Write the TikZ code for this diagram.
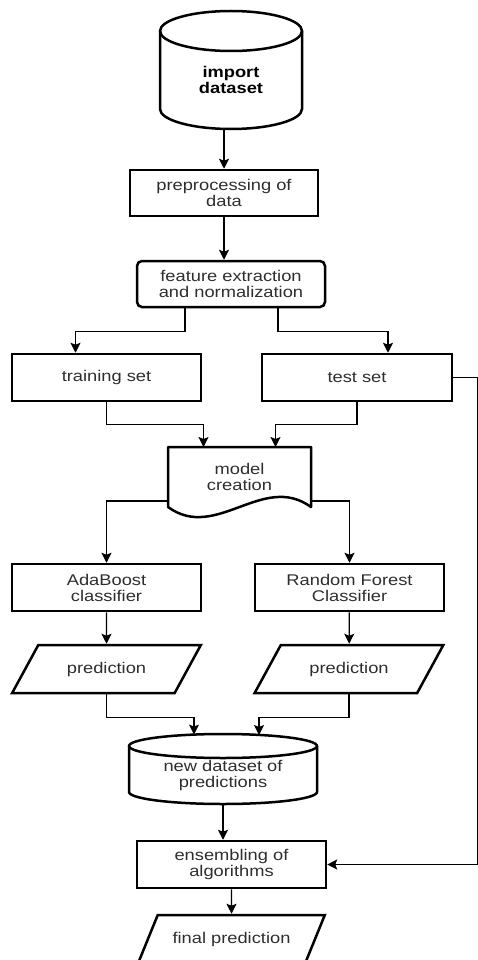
\documentclass[tikz,border=0pt]{standalone}
\usepackage{fontspec}
\setmainfont{Liberation Sans}[FakeStretch=1.18]
\usepackage{tikz}
\usetikzlibrary{shapes.geometric, arrows.meta}
\definecolor{textgray}{HTML}{2E2E2E}
\tikzstyle{procbox} = [rectangle, minimum width=189pt, minimum height=47pt, align=center, draw=black, line width=2.5pt, text=textgray, font=\fontsize{15.5}{16}\selectfont]
\tikzstyle{roundbox} = [procbox, rounded corners=5pt, minimum width=188pt, minimum height=46pt]
\tikzstyle{iobox} = [trapezium, trapezium left angle=52, trapezium right angle=128, trapezium stretches=true, minimum width=189pt, minimum height=48pt, align=center, draw=black, line width=2.5pt, text=textgray, font=\fontsize{15.5}{16}\selectfont]
\tikzstyle{dbase} = [rectangle, outer sep=0pt, align=center, text=textgray, font=\fontsize{15.5}{16}\selectfont]
\tikzstyle{docbox} = [dbase, minimum width=143pt, minimum height=60pt]
\tikzstyle{shapeline} = [draw=black, line width=2.5pt, line join=round]
\tikzstyle{arrow} = [line width=1.3pt, ->, >={Stealth[length=10pt, width=10pt, inset=2pt]}]

\begin{document}
\begin{tikzpicture}[x=1pt, y=1pt]
	\useasboundingbox (0,0) rectangle (477,-960);
	% Nodes
	\node (imp) [dbase, minimum width=142pt, minimum height=98pt, text=black, font=\fontsize{15.5}{16}\selectfont\bfseries] at (231,-80) {import\\dataset};
	\node (pre) [procbox, minimum width=188pt, minimum height=46pt] at (224,-193) {preprocessing of\\data};
	\node (feat) [roundbox] at (231,-284) {feature extraction\\and normalization};
	\node (train) [procbox] at (106.5,-377.5) {training set};
	\node (test) [procbox, minimum width=190pt] at (357,-377.5) {test set};
	\node (model) [docbox] at (239.5,-477) {model\\creation};
	\node (ada) [procbox] at (106.5,-587.5) {AdaBoost\\classifier};
	\node (rf) [procbox] at (349.5,-587.5) {Random Forest\\Classifier};
	\node (pred1) [iobox] at (106.5,-669) {prediction};
	\node (pred2) [iobox] at (349,-669) {prediction};
	\node (newds) [dbase, minimum width=188pt, minimum height=58pt] at (223,-775) {new dataset of\\predictions};
	\node (ens) [procbox] at (231.5,-864.5) {ensembling of\\algorithms};
	\node (fin) [iobox, minimum width=187pt] at (231.5,-939) {final prediction};
	% Outlines
	\draw [shapeline] (imp.north) ellipse [x radius=71, y radius=20];
	\draw [shapeline] (imp.north west) -- ([yshift=20pt]imp.south west) arc [start angle=180, end angle=360, x radius=71, y radius=20] -- (imp.north east);
	\draw [shapeline] (newds.north) ellipse [x radius=94, y radius=12];
	\draw [shapeline] (newds.north west) -- ([yshift=12pt]newds.south west) arc [start angle=180, end angle=360, x radius=94, y radius=12] -- (newds.north east);
	\draw [shapeline] (model.north west) -- (model.north east) -- (model.south east) .. controls +(-48,35) and +(48,-35) .. (model.south west) -- cycle;
	% Arrows
	\draw [arrow] (imp.south -| pre.north) -- (pre.north);
	\draw [arrow] (pre.south) -- (pre.south |- feat.north);
	\draw [arrow] ([xshift=-46pt]feat.south) -- ++(0,-23) -| ([xshift=-31pt]train.north);
	\draw [arrow] ([xshift=47pt]feat.south) -- ++(0,-23) -| ([xshift=31pt]test.north);
	\draw [arrow] (train.south) -- ++(0,-22) -| ([xshift=-36pt]model.north);
	\draw [arrow] (test.south) -- ++(0,-22) -| ([xshift=36pt]model.north);
	\draw [arrow] ([yshift=6pt]model.south west) -| (ada.north);
	\draw [arrow] ([yshift=6pt]model.south east) -| (rf.north);
	\draw [arrow] (ada) -- (pred1);
	\draw [arrow] (rf) -- (pred2);
	\draw [arrow] (pred1.south) -- ++(0,-23) -| ([xshift=-29pt, yshift=11.4pt]newds.north);
	\draw [arrow] (pred2.south) -- ++(0,-23) -| ([xshift=36pt, yshift=11pt]newds.north);
	\draw [arrow] (newds.south) -- (newds.south |- ens.north);
	\draw [arrow] (ens) -- (fin);
	\draw [arrow] (test.east) -- ++(24,0) |- (ens.east);
\end{tikzpicture}
\end{document}
